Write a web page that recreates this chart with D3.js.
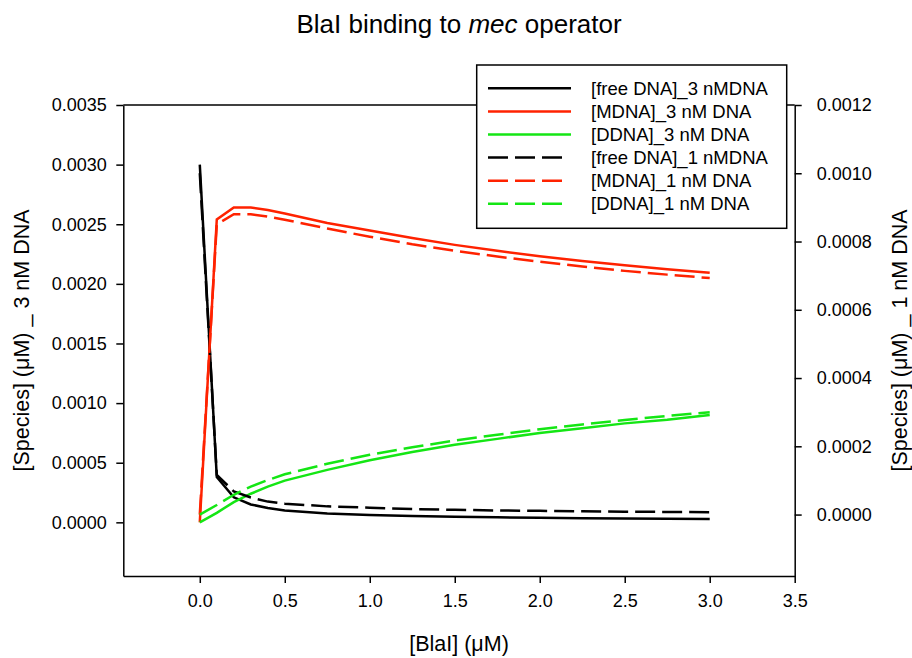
<!DOCTYPE html>
<html>
<head>
<meta charset="utf-8">
<script src="https://cdn.jsdelivr.net/npm/d3@7/dist/d3.min.js"></script>
<style>
  html, body { margin: 0; padding: 0; background: #fff; }
  svg { display: block; font-family: "Liberation Sans", Arial, sans-serif; }
</style>
</head>
<body>
<svg id="chart" width="912" height="658"></svg>
<script>
// BlaI concentration (µM)
const blaI = [0, 0.1, 0.2, 0.3, 0.4, 0.5, 0.75, 1.0, 1.25, 1.5, 1.75, 2.0, 2.25, 2.5, 2.75, 3.0];

// 3 nM DNA species (left axis, µM)
const freeDNA3 = [0.0030, 0.00038, 0.00021, 0.00015, 0.00012, 0.00010, 0.000075, 0.000062, 0.000053, 0.000047, 0.000042, 0.000038, 0.000035, 0.000032, 0.000030, 0.000028];
const mDNA3    = [0, 0.00254, 0.00264, 0.00264, 0.00262, 0.00259, 0.00251, 0.002448, 0.002384, 0.002327, 0.002277, 0.002232, 0.002192, 0.002156, 0.002123, 0.002093];
const dDNA3    = [0, 0.00008, 0.00017, 0.00024, 0.00030, 0.00035, 0.00044, 0.00052, 0.00059, 0.00065, 0.00070, 0.00075, 0.00079, 0.00083, 0.00086, 0.00090];

// 1 nM DNA species (right axis, µM)
const freeDNA1 = [0.0010, 0.000116, 0.000068, 0.000050, 0.000038, 0.000032, 0.000024, 0.000020, 0.000016, 0.000014, 0.000012, 0.000011, 0.0000095, 0.0000085, 0.0000077, 0.000007];
const mDNA1    = [0, 0.00085, 0.00088, 0.00088, 0.000873, 0.000864, 0.000838, 0.000814, 0.000792, 0.000773, 0.000756, 0.000741, 0.000727, 0.000714, 0.000703, 0.000693];
const dDNA1    = [0, 0.000028, 0.000058, 0.000082, 0.000101, 0.000118, 0.000149, 0.000175, 0.000197, 0.000217, 0.000234, 0.000250, 0.000264, 0.000277, 0.000289, 0.000300];

// Tick values
const xTicks = [0, 0.5, 1.0, 1.5, 2.0, 2.5, 3.0, 3.5];
const yLeftTicks = [0, 0.0005, 0.0010, 0.0015, 0.0020, 0.0025, 0.0030, 0.0035];
const yRightTicks = [0, 0.0002, 0.0004, 0.0006, 0.0008, 0.0010, 0.0012];

// Legend entries
const legendLabels = ["[free DNA]_3 nMDNA", "[MDNA]_3 nM DNA", "[DDNA]_3 nM DNA",
                      "[free DNA]_1 nMDNA", "[MDNA]_1 nM DNA", "[DDNA]_1 nM DNA"];

const BLACK = "#000000", RED = "#ff2200", GREEN = "#14e614";
const DASH = "20,7";

const series = [
  { values: freeDNA3, color: BLACK, dash: null, axis: "L" },
  { values: mDNA3,    color: RED,   dash: null, axis: "L" },
  { values: dDNA3,    color: GREEN, dash: null, axis: "L" },
  { values: freeDNA1, color: BLACK, dash: DASH, axis: "R" },
  { values: mDNA1,    color: RED,   dash: DASH, axis: "R" },
  { values: dDNA1,    color: GREEN, dash: DASH, axis: "R" }
];

const svg = d3.select("#chart");
const plot = { left: 123.3, right: 794.7, top: 105, bottom: 576 };

const x = d3.scaleLinear().domain([-0.45, 3.5]).range([plot.left, plot.right]);
const yL = d3.scaleLinear().domain([-0.00045, 0.0035]).range([plot.bottom, plot.top]);
const yR = d3.scaleLinear().domain([-0.00018, 0.0012]).range([plot.bottom, plot.top]);

const fmt4 = d3.format(".4f");
const fmt1 = d3.format(".1f");

// Data lines
const gLines = svg.append("g");
series.forEach(s => {
  const yS = s.axis === "L" ? yL : yR;
  const line = d3.line().x((d, i) => x(blaI[i])).y(d => yS(d));
  gLines.append("path")
    .datum(s.values)
    .attr("d", line)
    .attr("fill", "none")
    .attr("stroke", s.color)
    .attr("stroke-width", 2.5)
    .attr("stroke-linejoin", "miter")
    .attr("stroke-dasharray", s.dash);
});

// Axes
function styleAxis(g) {
  g.selectAll("path, line").attr("stroke", "#000").attr("stroke-width", 1.5);
  g.selectAll("text").attr("fill", "#000").style("font-size", "18px")
    .style("font-family", "'Liberation Sans', Arial, sans-serif");
}

svg.append("g")
  .attr("transform", `translate(0,${plot.bottom})`)
  .call(d3.axisBottom(x).tickValues(xTicks).tickFormat(fmt1).tickSize(7).tickSizeOuter(0).tickPadding(11))
  .call(styleAxis);

svg.append("g")
  .attr("transform", `translate(${plot.left},0)`)
  .call(d3.axisLeft(yL).tickValues(yLeftTicks).tickFormat(fmt4).tickSize(7).tickSizeOuter(0).tickPadding(9.5))
  .call(styleAxis);

svg.append("g")
  .attr("transform", `translate(${plot.right},0)`)
  .call(d3.axisRight(yR).tickValues(yRightTicks).tickFormat(fmt4).tickSize(7).tickSizeOuter(0).tickPadding(15))
  .call(styleAxis);

// Top frame line
svg.append("line")
  .attr("x1", plot.left).attr("x2", plot.right)
  .attr("y1", plot.top).attr("y2", plot.top)
  .attr("stroke", "#000").attr("stroke-width", 1.5);

// Title
const title = svg.append("text")
  .attr("x", (plot.left + plot.right) / 2)
  .attr("y", 32.5)
  .attr("text-anchor", "middle")
  .style("font-size", "26px");
title.append("tspan").text("BlaI binding to ");
title.append("tspan").style("font-style", "italic").text("mec");
title.append("tspan").text(" operator");

// Axis titles
const midY = (plot.top + plot.bottom) / 2;
svg.append("text")
  .attr("x", (plot.left + plot.right) / 2)
  .attr("y", 651)
  .attr("text-anchor", "middle")
  .style("font-size", "21.5px")
  .text("[BlaI] (\u03bcM)");

svg.append("text")
  .attr("transform", `translate(29,${midY}) rotate(-90)`)
  .attr("text-anchor", "middle")
  .style("font-size", "21.5px")
  .text("[Species] (\u03bcM) _ 3 nM DNA");

svg.append("text")
  .attr("transform", `translate(907,${midY}) rotate(-90)`)
  .attr("text-anchor", "middle")
  .style("font-size", "21.5px")
  .text("[Species] (\u03bcM) _ 1 nM DNA");

// Legend
const legend = svg.append("g");
legend.append("rect")
  .attr("x", 476.7).attr("y", 65)
  .attr("width", 310).attr("height", 163.3)
  .attr("fill", "#fff").attr("stroke", "#000").attr("stroke-width", 1.5);

legendLabels.forEach((label, i) => {
  const s = series[i];
  const cy = 88.3 + i * 23.1;
  legend.append("line")
    .attr("x1", 488).attr("x2", s.dash ? 562 : 571)
    .attr("y1", cy).attr("y2", cy)
    .attr("stroke", s.color).attr("stroke-width", 2.5)
    .attr("stroke-dasharray", s.dash);
  legend.append("text")
    .attr("x", 591).attr("y", cy)
    .attr("dy", "0.35em")
    .style("font-size", "18.5px")
    .text(label);
});
</script>
</body>
</html>
